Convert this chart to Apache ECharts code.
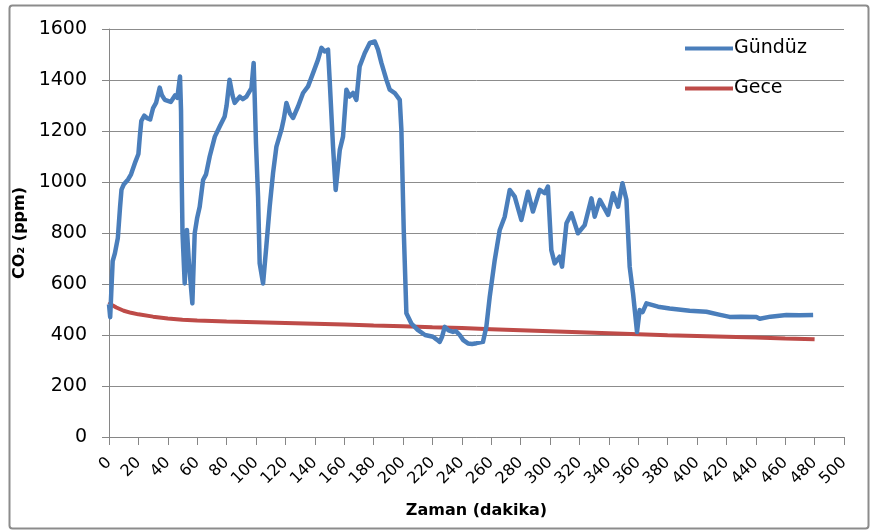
<!DOCTYPE html>
<html>
<head>
<meta charset="utf-8">
<script src="https://cdn.jsdelivr.net/npm/echarts@6/dist/echarts.min.js"></script>
<style>
html,body{margin:0;padding:0;background:#fff;}
#chart{width:873px;height:530px;}
</style>
</head>
<body>
<div id="chart"></div>
<script>
// Tick labels
const xTicks = [0,20,40,60,80,100,120,140,160,180,200,220,240,260,280,300,320,340,360,380,400,420,440,460,480,500];
const yTicks = [0,200,400,600,800,1000,1200,1400,1600];
const seriesNames = ['Gündüz','Gece'];

// Gündüz (day) series: time in minutes and CO2 ppm
const gunduzTime = [0,0.8,1.5,2.5,4,6,7.5,8.5,10,13,15,18,20,21,22,24,26,28,30,32,34.5,36,38,42,45,46.5,48.3,49,49.5,50,51.5,53,54.4,56.7,58.3,60,61.7,64,66,68.5,72,75.3,78.7,80,82,84,85.5,89,91,93.5,96.9,98.4,99.1,100,101.4,102.5,104.8,107,109.3,111.6,113.9,117.3,119,120.7,123,125.2,128.6,132,135.4,138.8,142.2,144.5,146.7,149,150.1,152.4,154.2,155,157,159.2,161.5,163.7,166,168.3,170.5,174,177.4,180.8,183,185.3,188.7,191,194.4,197.8,198.9,200.5,202.3,205.7,210,215,220.4,223,225,226.5,228.4,231,234,236,238.6,241,244.2,247,250,254.4,256.7,259,262.4,265.8,269.2,272.6,276,280.5,285,288.4,293,296.4,298.6,300.9,303.2,306.6,308.2,311.2,314.6,319,323.6,328.2,330.4,333.9,339.5,342.9,346.3,349.3,352,354.2,356.5,359.2,361,363,365.6,373.5,381.4,395,406.4,415,422.2,430,440.4,442.7,450,460.8,470,479];
const gunduzValue = [520,470,560,690,720,780,900,970,990,1010,1030,1080,1110,1180,1240,1260,1250,1245,1290,1310,1370,1340,1322,1314,1340,1330,1414,1280,1000,800,602,812,681,524,799,860,903,1008,1030,1100,1178,1218,1257,1300,1401,1340,1310,1335,1325,1335,1368,1467,1335,1150,943,681,602,746,903,1035,1139,1205,1250,1310,1270,1251,1296,1349,1375,1427,1480,1526,1512,1519,1401,1139,969,975,1126,1178,1362,1335,1349,1322,1453,1506,1545,1551,1519,1467,1401,1362,1349,1322,1205,812,485,445,420,400,393,382,373,392,432,418,412,415,400,380,367,365,368,373,432,550,694,812,864,969,943,851,962,884,969,956,982,733,681,707,668,838,877,799,831,936,864,930,871,956,903,995,930,668,563,412,498,490,524,511,504,495,491,480,471,472,471,464,472,478,477,478];

// Gece (night) series
const geceTime = [0,2,5,10,15,20,30,40,50,60,80,100,120,140,160,180,200,220,240,260,280,300,320,340,360,380,400,420,440,460,480];
const geceValue = [530,518,508,495,487,481,472,465,460,457,453,450,447,444,441,437,434,430,427,423,419,415,411,407,403,399,396,393,390,386,383];

const zip = (t, v) => t.map((x, i) => [x, v[i]]);

const chart = echarts.init(document.getElementById('chart'));
const FONT = 'DejaVu Sans';
chart.setOption({
  animation: false,
  backgroundColor: '#fff',
  textStyle: { fontFamily: FONT },
  graphic: [{
    type: 'rect', left: 7, top: 3, shape: { width: 859, height: 523, r: 3 },
    style: { fill: 'none', stroke: '#8c8c8c', lineWidth: 2 }, silent: true, z: -1
  }],
  grid: { left: 109, right: 29, top: 29, bottom: 93, containLabel: false },
  legend: {
    orient: 'vertical', left: 680, top: 34, itemWidth: 48, itemHeight: 4, itemGap: 21,
    icon: 'rect',
    textStyle: { fontFamily: FONT, fontSize: 19, color: '#000', padding: [0, 0, 0, -4] },
    data: seriesNames
  },
  xAxis: {
    type: 'value', min: 0, max: 500, interval: 20,
    name: 'Zaman (dakika)', nameLocation: 'middle', nameGap: 66,
    nameTextStyle: { fontFamily: FONT, fontWeight: 'bold', fontSize: 16, color: '#000' },
    axisLine: { show: true, lineStyle: { color: '#868686', width: 1 } },
    axisTick: { show: true, length: 8, lineStyle: { color: '#868686' } },
    splitLine: { show: false },
    axisLabel: {
      rotate: 45, margin: 23, fontFamily: FONT, fontSize: 16, color: '#000',
      formatter: v => xTicks.includes(v) ? String(v) : ''
    }
  },
  yAxis: {
    type: 'value', min: 0, max: 1600, interval: 200,
    name: 'CO₂ (ppm)', nameLocation: 'middle', nameGap: 70, nameRotate: 90,
    nameTextStyle: { fontFamily: FONT, fontWeight: 'bold', fontSize: 16, color: '#000' },
    axisLine: { show: true, lineStyle: { color: '#868686', width: 1 } },
    axisTick: { show: true, length: 7, lineStyle: { color: '#868686' } },
    splitLine: { show: true, lineStyle: { color: '#8c8c8c', width: 1 } },
    axisLabel: {
      margin: 22, fontFamily: FONT, fontSize: 19, color: '#000',
      formatter: v => yTicks.includes(v) ? String(v) : ''
    }
  },
  series: [
    {
      name: seriesNames[0], type: 'line', data: zip(gunduzTime, gunduzValue),
      showSymbol: false, symbol: 'none', z: 3,
      lineStyle: { color: '#4a7ebb', width: 4.5, join: 'round' },
      itemStyle: { color: '#4a7ebb' }
    },
    {
      name: seriesNames[1], type: 'line', data: zip(geceTime, geceValue),
      showSymbol: false, symbol: 'none', z: 2,
      lineStyle: { color: '#be4b48', width: 4 },
      itemStyle: { color: '#be4b48' }
    }
  ]
});
</script>
</body>
</html>
